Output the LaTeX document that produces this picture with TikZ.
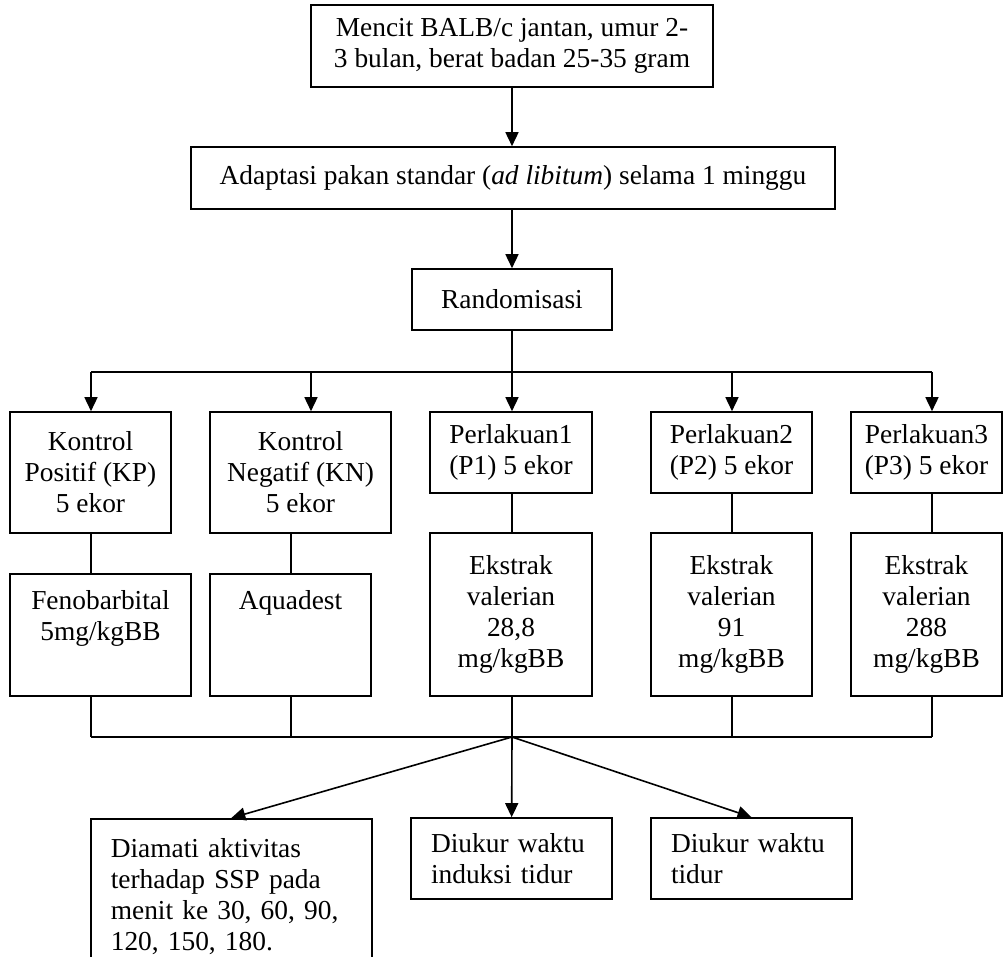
\documentclass[tikz,border=0pt]{standalone}
\usepackage{fontspec}
\setmainfont{Liberation Serif}
\usetikzlibrary{arrows.meta}

\begin{document}
\begin{tikzpicture}[x=0.5pt,y=-0.5pt,
  every node/.style={font=\fontsize{13.7pt}{15.5pt}\selectfont},
  kotak/.style={draw,rectangle,line width=0.8pt,align=center,inner sep=4pt},
  kiri/.style={kotak,align=left,inner xsep=10pt},
  garis/.style={line width=0.8pt},
  panah/.style={garis,-{Triangle[length=7pt,width=6.5pt]}}]
  \useasboundingbox (0,0) rectangle (1003,957);
  \clip (0,0) rectangle (1003,957);

  % alur persiapan
  \node[kotak,minimum width=201pt,minimum height=41pt] (mencit) at (512,46)
    {Mencit BALB/c jantan, umur 2-\\3 bulan, berat badan 25-35 gram};
  \node[kotak,minimum width=322pt,minimum height=31pt] (adaptasi) at (513,178)
    {Adaptasi pakan standar (\textit{ad libitum}) selama 1 minggu};
  \node[kotak,minimum width=100pt,minimum height=30.5pt] (acak) at (512,299.5)
    {Randomisasi};

  % kelompok
  \node[kotak,minimum width=80.5pt,minimum height=60.5pt] (kp) at (90.5,472.5)
    {Kontrol\\Positif (KP)\\5 ekor};
  \node[kotak,minimum width=90.5pt,minimum height=60.5pt] (kn) at (300.5,472.5)
    {Kontrol\\Negatif (KN)\\5 ekor};
  \node[kotak,minimum width=81pt,minimum height=40.5pt] (p1) at (511,452.5)
    {Perlakuan1\\(P1) 5 ekor};
  \node[kotak,minimum width=80.5pt,minimum height=40.5pt] (p2) at (731.5,452.5)
    {Perlakuan2\\(P2) 5 ekor};
  \node[kotak,minimum width=75.5pt,minimum height=40.5pt] (p3) at (926.5,452.5)
    {Perlakuan3\\(P3) 5 ekor};

  % perlakuan
  \node[kotak,minimum width=90.5pt,minimum height=61pt,text height=29pt,text depth=24pt]
    (isi_kp) at (100.5,635) {Fenobarbital\\5mg/kgBB};
  \node[kotak,minimum width=80.5pt,minimum height=61pt,text height=14pt,text depth=39pt]
    (isi_kn) at (290.5,635) {Aquadest};
  \node[kotak,minimum width=81pt,minimum height=81.5pt] (isi_p1) at (511,614.5)
    {Ekstrak\\valerian\\28,8\\mg/kgBB};
  \node[kotak,minimum width=80.5pt,minimum height=81.5pt] (isi_p2) at (731.5,614.5)
    {Ekstrak\\valerian\\91\\mg/kgBB};
  \node[kotak,minimum width=75.5pt,minimum height=81.5pt] (isi_p3) at (926.5,614.5)
    {Ekstrak\\valerian\\288\\mg/kgBB};

  % pengamatan
  \node[kiri,text width=120.5pt,inner ysep=10pt,anchor=north west] (amati) at (90,818)
    {Diamati aktivitas\\terhadap SSP pada\\menit ke 30, 60, 90,\\120, 150, 180.};
  \node[kiri,text width=80.5pt,minimum height=40.5pt] (induksi) at (511.5,858.5)
    {Diukur waktu\\induksi tidur};
  \node[kiri,text width=80.5pt,minimum height=40.5pt] (tidur) at (751.5,858.5)
    {Diukur waktu\\tidur};

  \coordinate (bus_kp) at (91,372);
  \coordinate (bus_kn) at (311,372);
  \coordinate (bus_p1) at (512,372);
  \coordinate (bus_p2) at (732,372);
  \coordinate (bus_p3) at (932,372);
  \coordinate (dasar_kp) at (91,737);
  \coordinate (dasar_kn) at (291,737);
  \coordinate (dasar_p1) at (512,737);
  \coordinate (dasar_p2) at (732,737);
  \coordinate (dasar_p3) at (932,737);

  \draw[panah] (mencit) -- (mencit |- adaptasi.north);
  \draw[panah] (acak |- adaptasi.south) -- (acak);
  \draw[garis] (acak) -- (bus_p1);
  \draw[garis] (bus_kp) -- (bus_p3);
  \foreach \k in {kp,kn,p1,p2,p3}{
    \draw[panah] (bus_\k) -- (bus_\k |- \k.north);
    \draw[garis] (dasar_\k |- \k.south) -- (dasar_\k |- isi_\k.north);
    \draw[garis] (dasar_\k |- isi_\k.south) -- (dasar_\k);
  }
  \draw[garis] (dasar_kp) -- (dasar_p3);
  \draw[panah] (dasar_p1) -- (amati.north);
  \draw[panah] (dasar_p1) -- (induksi);
  \draw[panah] (dasar_p1) -- (tidur.north);
\end{tikzpicture}
\end{document}
